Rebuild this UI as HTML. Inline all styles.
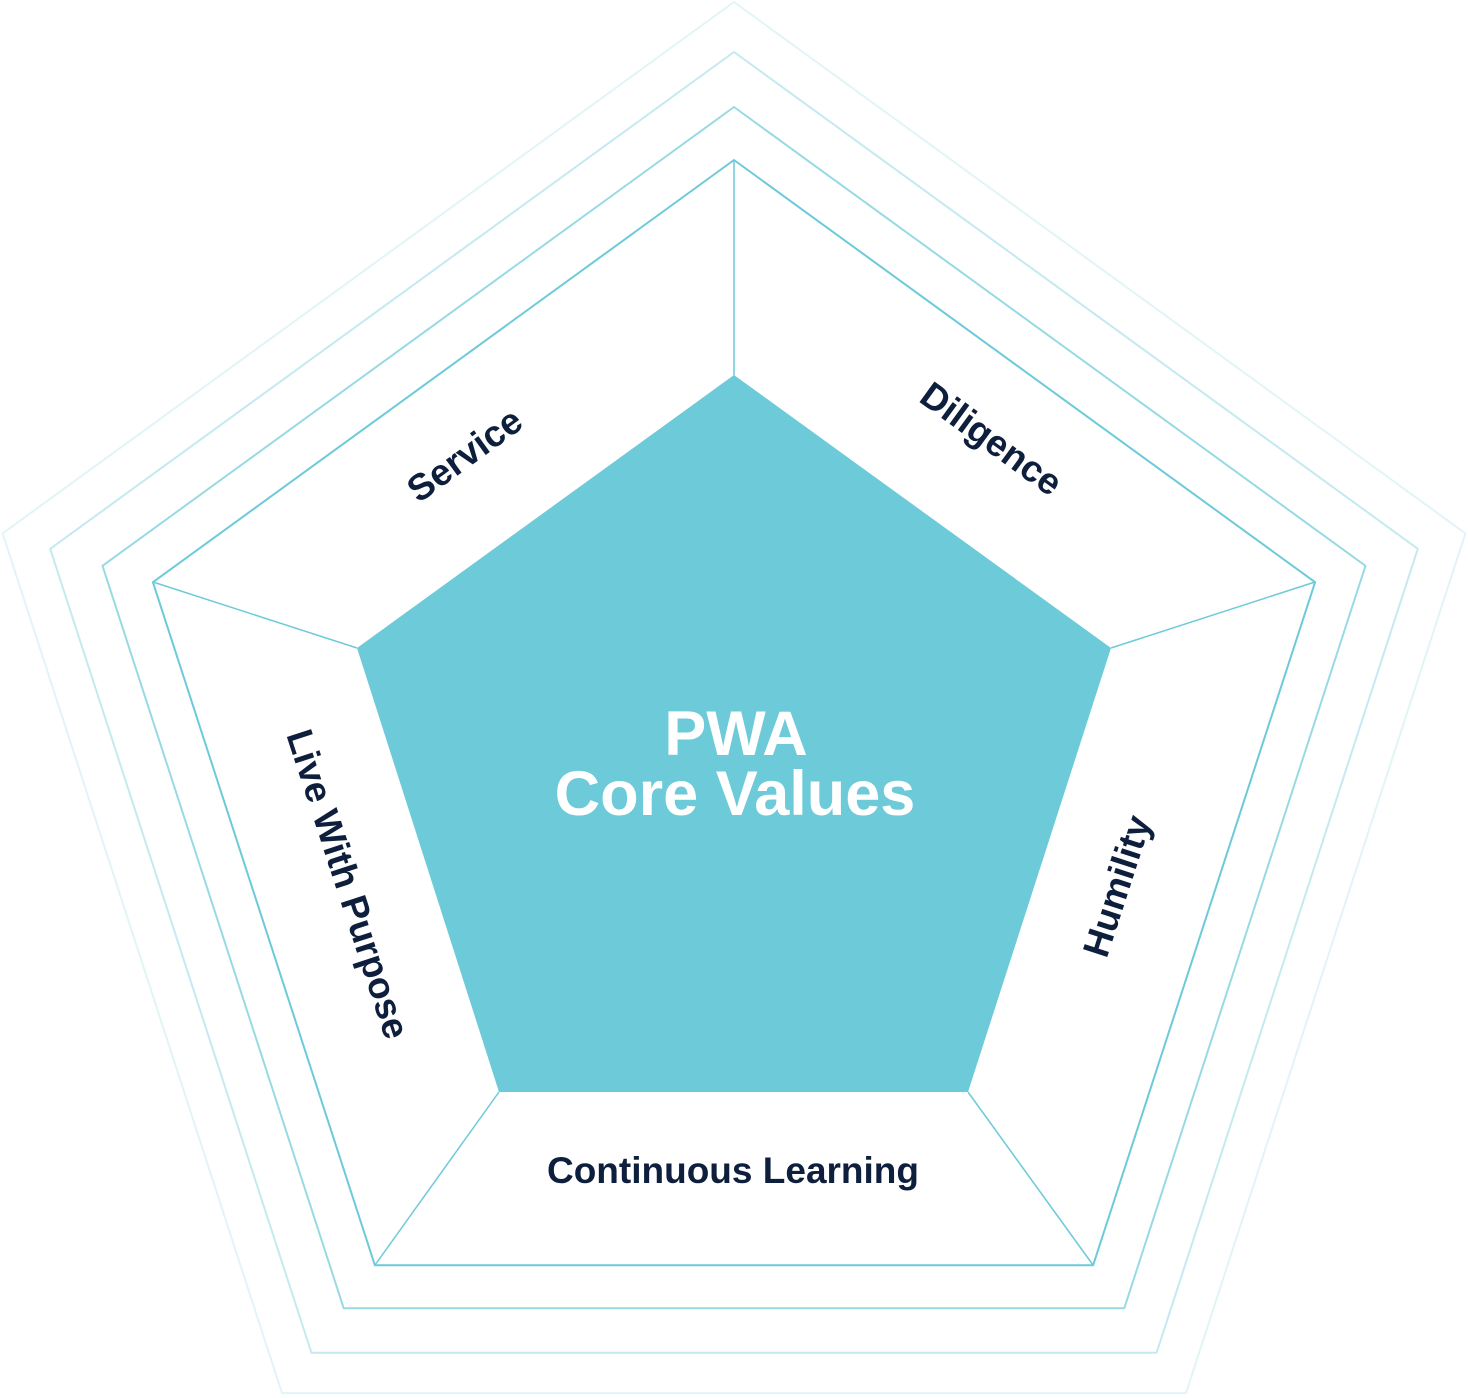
<!DOCTYPE html>
<html><head><meta charset="utf-8"><style>
html,body{margin:0;padding:0;background:#fff;}
svg{display:block;}
text{font-family:"Liberation Sans",sans-serif;font-weight:bold;}
</style></head><body>
<svg width="1468" height="1398" viewBox="0 0 1468 1398" xmlns="http://www.w3.org/2000/svg">
<g fill="none" stroke-linejoin="round">
<polygon points="734,2 1465.4,533.4 1186,1393.1 282,1393.1 2.6,533.4" stroke="#6ccad9" stroke-opacity="0.2" stroke-width="2"/>
<polygon points="734,52 1417.8,548.8 1156.6,1352.7 311.4,1352.7 50.2,548.8" stroke="#6ccad9" stroke-opacity="0.4" stroke-width="2"/>
<polygon points="734,107 1365.5,565.8 1124.3,1308.2 343.7,1308.2 102.5,565.8" stroke="#6ccad9" stroke-opacity="0.7" stroke-width="2"/>
<polygon points="734,160 1315.1,582.2 1093.1,1265.3 374.9,1265.3 152.9,582.2" stroke="#6ccad9" stroke-width="2"/>
</g>
<g stroke="#6ccad9" stroke-width="1.5">
<line x1="734" y1="375" x2="734" y2="160"/>
<line x1="1111" y1="648" x2="1315" y2="582"/>
<line x1="968" y1="1092" x2="1093" y2="1265"/>
<line x1="499" y1="1092" x2="375" y2="1265"/>
<line x1="357" y1="648" x2="153" y2="582"/>
</g>
<polygon points="734,375 1111,648 968,1092 499,1092 357,648" fill="#6ccad9"/>
<text x="736" y="755" fill="#fff" font-size="63" text-anchor="middle">PWA</text>
<text x="735" y="815" fill="#fff" font-size="63" text-anchor="middle">Core Values</text>
<g fill="#0d1f3c" font-size="37" text-anchor="middle">
<text transform="translate(472,465) rotate(-36)">Service</text>
<text transform="translate(984,449) rotate(36)">Diligence</text>
<text transform="translate(1129,890) rotate(-72)">Humility</text>
<text transform="translate(336,888) rotate(72)">Live With Purpose</text>
<text x="733" y="1183">Continuous Learning</text>
</g>
</svg>
</body></html>
